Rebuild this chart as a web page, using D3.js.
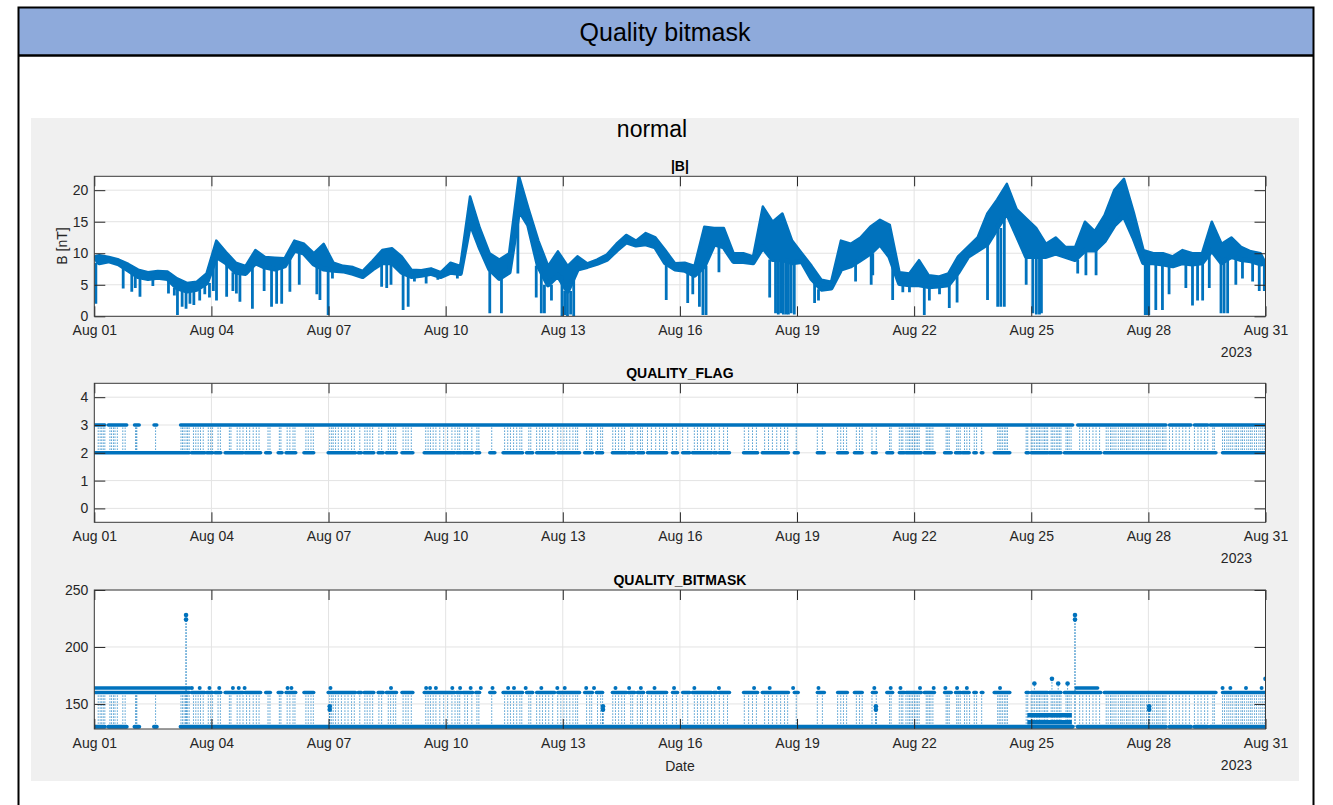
<html>
<head>
<script src="https://cdn.jsdelivr.net/npm/d3@7"></script>
<style>
  body { margin: 0; background: #fff; }
  text { font-family: "Liberation Sans", Arial, sans-serif; }
</style>
</head>
<body>
<script>
var W = 1333, H = 805;

// ---- data (days counted from Aug 01 2023 00:00 UTC) ----
var xTickDays = [0, 3, 6, 9, 12, 15, 18, 21, 24, 27, 30];
var bTicks = [0, 5, 10, 15, 20];
var flagTicks = [0, 1, 2, 3, 4];
var bitmaskTicks = [150, 200, 250];

// |B| per 6 h bin: typical level and highest value in the bin
var binHours = 6;
var bLevel = [8.5, 8.8, 8.3, 7.3, 6.3, 6.0, 6.2, 6.0, 4.5, 4.0, 4.3, 5.3, 9.5, 8.5, 7.0, 6.8, 8.5, 7.8, 7.5, 8.0,
              10.5, 10.0, 8.3, 7.5, 7.3, 7.2, 6.8, 6.3, 7.5, 8.5, 8.5, 7.0, 6.3, 6.5, 6.8, 6.3, 7.0, 6.8, 15.0, 11.0,
              7.5, 6.0, 7.0, 17.0, 14.5, 8.0, 5.0, 6.5, 4.0, 7.5, 7.9, 8.4, 9.0, 10.5, 11.8, 11.3, 11.5, 11.0, 8.5, 7.5,
              7.3, 6.5, 8.0, 11.5, 11.0, 8.7, 8.7, 8.5, 11.0, 9.0, 9.0, 8.5, 8.7, 6.0, 4.3, 4.5, 7.5, 8.0, 9.0, 10.0,
              11.5, 9.5, 5.2, 5.0, 5.0, 4.7, 4.8, 5.0, 7.0, 9.5, 10.5, 11.5, 14.0, 16.5, 13.0, 9.5, 9.5, 9.5, 10.0, 9.5,
              9.0, 10.5, 10.5, 12.0, 14.5, 16.0, 12.5, 8.5, 8.5, 8.3, 8.0, 8.5, 8.3, 8.5, 10.5, 8.5, 9.5, 9.0, 8.8, 8.3];
var bHigh = [9.7, 9.4, 9.0, 8.3, 7.4, 7.0, 7.2, 7.1, 6.0, 5.3, 5.5, 6.8, 12.0, 10.2, 8.5, 8.0, 10.5, 9.4, 9.3, 9.2,
             12.0, 11.5, 10.0, 11.5, 8.5, 8.0, 7.8, 7.2, 8.8, 10.5, 10.8, 9.5, 7.4, 7.3, 7.6, 7.0, 8.5, 8.0, 19.0, 14.0,
             10.0, 9.0, 10.0, 22.3, 17.0, 12.0, 8.0, 10.3, 8.0, 9.5, 8.4, 9.0, 9.8, 11.5, 12.9, 12.0, 13.2, 12.5, 10.5, 8.4,
             8.5, 8.0, 14.2, 14.0, 14.0, 10.0, 10.0, 9.5, 17.4, 15.0, 16.3, 12.0, 10.0, 8.0, 5.8, 5.5, 12.0, 11.5, 12.5, 14.2,
             15.3, 14.5, 7.0, 6.8, 8.9, 6.5, 6.3, 6.8, 9.5, 11.0, 12.5, 16.3, 18.5, 21.0, 17.0, 15.5, 14.0, 11.5, 12.5, 11.0,
             11.0, 15.0, 13.5, 16.0, 20.0, 21.8, 16.5, 10.5, 10.0, 10.0, 9.5, 10.5, 10.0, 10.0, 15.0, 11.5, 12.5, 11.0, 10.3, 10.0];
var bFirst = 9.5, bLast = 8.5;
// downward dips of |B|: [day, value]
var bSpikes = [[0.04, 2.0], [0.74, 4.4], [0.96, 3.9], [1.05, 4.5], [1.17, 3.1], [1.5, 4.8], [1.9, 3.6], [2.05, 3.3],
  [2.13, 0.2], [2.25, 1.5], [2.35, 1.2], [2.45, 2.0], [2.55, 1.8], [2.7, 2.5], [2.83, 3.5], [2.95, 3.0], [3.05, 4.0],
  [3.13, 2.5], [3.39, 3.1], [3.55, 4.0], [3.64, 3.6], [3.73, 2.3], [4.05, 1.2], [4.35, 4.0], [4.54, 1.5], [4.67, 2.0],
  [4.8, 2.0], [5.01, 3.9], [5.25, 5.0], [5.7, 3.5], [5.78, 2.6], [5.99, 0.2], [6.1, 6.0], [7.36, 4.7], [7.49, 4.5],
  [7.6, 5.0], [7.91, 1.0], [8.04, 1.5], [8.2, 5.5], [8.5, 5.2], [8.8, 5.8], [9.3, 6.0],
  [10.13, 0.5], [10.43, 0.5], [10.85, 6.8], [11.32, 3.0], [11.45, 0.5], [11.53, 0.5], [11.71, 2.5], [11.98, 0.0],
  [12.05, 0.2], [12.12, 0.0], [12.2, 0.3], [12.28, 0.0], [14.65, 2.6], [15.2, 2.1], [15.33, 3.5], [15.5, 1.5],
  [15.59, 0.2], [15.67, 0.2], [16.0, 7.0], [17.3, 3.0], [17.45, 0.5], [17.52, 0.3], [17.58, 0.5], [17.65, 0.3],
  [17.72, 0.3], [17.78, 0.3], [17.85, 0.5], [17.93, 0.3], [18.45, 2.1], [18.55, 2.5], [19.5, 5.5], [19.9, 5.0],
  [19.94, 6.5], [20.45, 2.6], [20.71, 3.8], [20.88, 3.8], [21.26, 0.2], [21.39, 2.5], [21.65, 3.5], [21.9, 1.3],
  [22.1, 2.2], [22.88, 2.6], [23.14, 1.5], [23.22, 1.5], [23.31, 1.5], [23.87, 5.0], [24.04, 0.5], [24.13, 0.3],
  [24.21, 0.3], [24.26, 0.5], [25.19, 6.8], [25.4, 6.5], [25.66, 6.5], [26.92, 0.2], [26.97, 0.2], [27.01, 0.2],
  [27.19, 1.0], [27.36, 1.0], [27.53, 3.5], [27.96, 4.5], [28.13, 1.7], [28.26, 2.5], [28.39, 2.5], [28.56, 4.5],
  [28.86, 0.5], [28.94, 0.5], [29.03, 0.5], [29.24, 5.0], [29.41, 6.0], [29.67, 5.5], [29.84, 4.0], [29.97, 4.0]];

// quality flag: runs at level 3 and level 2, and times of 2<->3 switches
var level3Runs = [[0.02, 0.27], [0.36, 0.83], [1.03, 1.15], [1.53, 1.6], [2.21, 25.06], [25.19, 27.45],
                  [27.54, 28.09], [28.18, 28.52], [28.58, 30]];
var level2Runs = [[0, 2.43], [2.49, 2.83], [2.88, 3.03], [3.09, 3.24], [3.35, 3.81], [3.86, 4.26], [4.39, 4.51],
                  [4.71, 4.81], [4.91, 5.16], [5.37, 5.62], [5.99, 6.69], [6.76, 6.84], [6.91, 7.16], [7.27, 7.40],
                  [7.48, 7.74], [7.88, 8.16], [8.45, 9.23], [9.28, 9.40], [9.44, 9.69], [9.77, 9.87], [10.13, 10.26],
                  [10.47, 10.97], [11.07, 11.23], [11.33, 11.79], [11.87, 12.43], [12.56, 12.76], [12.86, 13.02],
                  [13.27, 13.63], [13.68, 13.84], [13.91, 14.07], [14.17, 14.66], [14.81, 14.94], [15.07, 15.25],
                  [15.32, 15.81], [15.86, 15.94], [16.0, 16.27], [16.63, 16.99], [17.11, 17.78], [17.93, 18.03],
                  [18.52, 18.70], [19.04, 19.29], [19.47, 19.67], [19.93, 20.03], [20.3, 20.45], [20.62, 20.75],
                  [20.79, 21.18], [21.26, 21.52], [21.78, 21.95], [22.06, 22.2], [22.24, 22.41], [22.53, 22.59],
                  [22.72, 22.76], [23.05, 23.45], [23.87, 23.93], [24.0, 24.42], [24.46, 24.76], [24.85, 25.78],
                  [25.87, 28.73], [28.9, 30]];
var flagSwitchDays = [0.10, 0.15, 0.19, 0.23, 0.27, 0.40, 0.44, 0.49, 0.53, 0.59, 0.73, 0.79, 1.06, 1.07, 1.09, 1.57,
  2.22, 2.26, 2.30, 2.35, 2.39, 2.43, 2.54, 2.60, 2.66, 2.72, 2.79, 2.92, 2.98, 3.03, 3.17, 3.23, 3.46, 3.50,
  3.66, 3.73, 3.81, 3.90, 3.98, 4.07, 4.15, 4.22, 4.45, 4.50, 4.74, 4.78, 4.94, 5.01, 5.09, 5.14, 5.42, 5.48, 5.55, 5.61,
  6.03, 6.08, 6.12, 6.18, 6.25, 6.33, 6.42, 6.50, 6.59, 6.66, 6.80, 6.93, 6.99, 7.06, 7.13, 7.29, 7.36,
  7.53, 7.59, 7.66, 7.72, 7.91, 7.98, 8.04, 8.12, 8.49, 8.55, 8.61, 8.68, 8.75, 8.85, 8.95, 9.05, 9.16, 9.24,
  9.31, 9.36, 9.49, 9.56, 9.67, 9.80, 9.85, 10.18, 10.51, 10.59, 10.66, 10.74, 10.82, 10.90, 10.95, 11.13, 11.18,
  11.33, 11.41, 11.48, 11.56, 11.64, 11.74, 11.87, 11.95, 12.03, 12.10, 12.18, 12.26, 12.33, 12.38, 12.61, 12.69, 12.74,
  12.89, 12.97, 13.02, 13.28, 13.35, 13.43, 13.51, 13.58, 13.74, 13.79, 13.91, 13.99, 14.04, 14.17, 14.27, 14.38, 14.48,
  14.58, 14.66, 14.81, 14.91, 15.07, 15.20, 15.37, 15.45, 15.53, 15.61, 15.71, 15.81, 15.89, 16.01, 16.12, 16.22,
  16.65, 16.76, 16.86, 16.96, 17.17, 17.27, 17.37, 17.48, 17.58, 17.68, 17.76, 17.98, 18.52, 18.65, 19.04, 19.12,
  19.19, 19.27, 19.52, 19.60, 19.67, 19.92, 20.03, 20.37, 20.41, 20.62, 20.67, 20.71, 20.79, 20.84, 20.88, 20.92,
  20.96, 21.01, 21.05, 21.09, 21.13, 21.31, 21.35, 21.39, 21.43, 21.48, 21.82, 21.86, 21.90, 22.09, 22.13, 22.18,
  22.29, 22.35, 22.42, 22.54, 22.60, 22.73, 23.14, 23.18, 23.22, 23.26, 23.31, 23.35, 23.39, 23.87, 23.91,
  24.00, 24.04, 24.08, 24.13, 24.17, 24.21, 24.25, 24.30, 24.34, 24.38, 24.42, 24.51, 24.55, 24.59, 24.64, 24.68,
  24.72, 24.76, 24.89, 24.93, 24.97, 25.02, 25.24, 25.32, 25.41, 25.49, 25.58, 25.66, 25.75,
  25.92, 25.97, 26.03, 26.07, 26.12, 26.17, 26.23, 26.29, 26.33, 26.38, 26.44, 26.48, 26.53, 26.59, 26.63, 26.69,
  26.74, 26.80, 26.84, 26.89, 26.95, 27.00, 27.04, 27.10, 27.15, 27.21, 27.25, 27.30, 27.36, 27.40, 27.45,
  27.54, 27.62, 27.71, 27.79, 27.88, 27.96, 28.05, 28.18, 28.27, 28.35, 28.44, 28.52, 28.65, 28.69,
  28.90, 28.95, 29.01, 29.06, 29.11, 29.16, 29.22, 29.26, 29.31, 29.37, 29.41, 29.46, 29.52, 29.57, 29.62, 29.66,
  29.72, 29.77, 29.83, 29.88, 29.93, 29.98];

// quality bitmask: low level follows flag 3 runs, high level follows flag 2 runs
var bitmaskLow = 130, bitmaskHigh = 160;
var bitmask164Runs = [[0, 2.45], [25.15, 25.7]];
var bitmask164Days = [2.5, 2.7, 2.95, 3.2, 3.55, 3.7, 3.85, 4.95, 5.05, 6.05, 7.6, 8.5, 8.6, 8.75, 9.17, 9.37, 9.64,
  9.9, 10.2, 10.6, 10.75, 11.05, 11.45, 11.86, 12.05, 12.6, 12.8, 13.35, 13.7, 14.0, 14.35, 14.85, 15.37, 16.0,
  16.9, 17.3, 17.9, 18.55, 19.98, 20.4, 20.65, 21.15, 21.5, 21.8, 22.1, 22.35, 23.2, 28.9, 29.1, 29.5, 29.9];
var bitmaskMidRuns = [[23.9, 25.04, 134], [23.9, 25.04, 140]];
var bitmaskExtra = [[2.35, 224], [2.35, 228], [25.12, 224], [25.12, 228], [6.03, 145], [6.03, 148],
  [13.03, 145], [13.03, 148], [20.02, 145], [20.02, 148], [27.02, 145], [27.02, 148],
  [24.08, 168], [24.53, 172], [24.69, 168], [24.93, 168], [30.0, 172]];

// ---- drawing ----
var BLUE = "#0072BD";
var T0 = Date.UTC(2023, 7, 1);
function dayToDate(d) { return new Date(T0 + d * 864e5); }

var svg = d3.select("body").append("svg").attr("width", W).attr("height", H);
svg.append("rect").attr("width", W).attr("height", H).attr("fill", "#fff");

// slide frame + header
svg.append("rect").attr("x", 18).attr("y", 7).attr("width", 1295).attr("height", 48).attr("fill", "#8eaadb");
svg.append("path").attr("d", "M18.5,806V7.5H1313.5V806").attr("fill", "none")
  .attr("stroke", "#000").attr("stroke-width", 2);
svg.append("line").attr("x1", 18).attr("x2", 1314).attr("y1", 55.5).attr("y2", 55.5)
  .attr("stroke", "#000").attr("stroke-width", 2.5);
svg.append("text").attr("x", 665).attr("y", 41).attr("text-anchor", "middle")
  .attr("font-size", 25).attr("fill", "#000").text("Quality bitmask");

// figure background
svg.append("rect").attr("x", 31).attr("y", 118).attr("width", 1268).attr("height", 663).attr("fill", "#f0f0f0");
svg.append("text").attr("x", 652).attr("y", 137).attr("text-anchor", "middle")
  .attr("font-size", 23).attr("fill", "#000").text("normal");

var x = d3.scaleUtc().domain([dayToDate(0), dayToDate(30)]).range([94.3, 1265.5]);
var xTickDates = xTickDays.map(dayToDate);
var fmt = d3.utcFormat("%b %d");

var panels = [
  {id: "b", top: 176.3, bottom: 316.3, domain: [0, 22.2], ticks: bTicks, title: "|B|"},
  {id: "flag", top: 383.3, bottom: 522.3, domain: [-0.5, 4.5], ticks: flagTicks, title: "QUALITY_FLAG"},
  {id: "mask", top: 590, bottom: 729, domain: [128, 250], ticks: bitmaskTicks, title: "QUALITY_BITMASK"}
];

panels.forEach(function(p) {
  p.y = d3.scaleLinear().domain(p.domain).range([p.bottom, p.top]);
  var g = svg.append("g");
  g.append("rect").attr("x", x.range()[0]).attr("y", p.top)
    .attr("width", x.range()[1] - x.range()[0]).attr("height", p.bottom - p.top).attr("fill", "#fff");
  // grid
  g.selectAll(".gx").data(xTickDates).enter().append("line")
    .attr("x1", function(d) { return x(d); }).attr("x2", function(d) { return x(d); })
    .attr("y1", p.top).attr("y2", p.bottom).attr("stroke", "#e3e3e3").attr("stroke-width", 1);
  g.selectAll(".gy").data(p.ticks).enter().append("line")
    .attr("x1", x.range()[0]).attr("x2", x.range()[1])
    .attr("y1", function(d) { return p.y(d); }).attr("y2", function(d) { return p.y(d); })
    .attr("stroke", "#e3e3e3").attr("stroke-width", 1);
  svg.append("clipPath").attr("id", "clip-" + p.id).append("rect")
    .attr("x", x.range()[0]).attr("y", p.top)
    .attr("width", x.range()[1] - x.range()[0]).attr("height", p.bottom - p.top);
  p.plot = svg.append("g").attr("clip-path", "url(#clip-" + p.id + ")");
});

// |B|: band between level and bin maximum, plus the dips
var pb = panels[0];
var band = [{d: 0, lo: bFirst, hi: bFirst}];
bLevel.forEach(function(v, i) { band.push({d: (i + 0.5) * binHours / 24, lo: v, hi: bHigh[i]}); });
band.push({d: 30, lo: bLast, hi: bLast});
var bxd = function(d) { return x(dayToDate(d.d)); };
pb.plot.append("path").datum(band)
  .attr("d", d3.area().x(bxd).y0(function(d) { return pb.y(d.lo); }).y1(function(d) { return pb.y(d.hi); }))
  .attr("fill", BLUE);
pb.plot.append("path").datum(band)
  .attr("d", d3.line().x(bxd).y(function(d) { return pb.y(d.lo); }))
  .attr("fill", "none").attr("stroke", BLUE).attr("stroke-width", 5).attr("stroke-linejoin", "round");
pb.plot.append("path").datum(band)
  .attr("d", d3.line().x(bxd).y(function(d) { return pb.y(d.hi); }))
  .attr("fill", "none").attr("stroke", BLUE).attr("stroke-width", 2.5).attr("stroke-linejoin", "round");
pb.plot.selectAll(null).data(bSpikes).enter().append("line")
  .attr("x1", function(d) { return x(dayToDate(d[0])); })
  .attr("x2", function(d) { return x(dayToDate(d[0])); })
  .attr("y1", function(d) { return pb.y(bLevel[Math.min(119, Math.floor(d[0] * 24 / binHours))]); })
  .attr("y2", function(d) { return pb.y(d[1]); })
  .attr("stroke", BLUE).attr("stroke-width", 2.8);

function runs(plot, y, data, level, width) {
  plot.selectAll(null).data(data).enter().append("line")
    .attr("x1", function(d) { return x(dayToDate(d[0])); })
    .attr("x2", function(d) { return x(dayToDate(d[1])) + 0.01; })
    .attr("y1", y(level)).attr("y2", y(level))
    .attr("stroke", BLUE).attr("stroke-width", width).attr("stroke-linecap", "round");
}
function dotted(plot, y, days, lo, hi) {
  plot.selectAll(null).data(days).enter().append("line")
    .attr("x1", function(d) { return x(dayToDate(d)); }).attr("x2", function(d) { return x(dayToDate(d)); })
    .attr("y1", y(lo)).attr("y2", y(hi))
    .attr("stroke", BLUE).attr("stroke-width", 1).attr("stroke-dasharray", "1.3,1.7").attr("opacity", 0.8);
}

// QUALITY_FLAG
var pf = panels[1];
dotted(pf.plot, pf.y, flagSwitchDays, 2, 3);
runs(pf.plot, pf.y, level3Runs, 3, 3.5);
runs(pf.plot, pf.y, level2Runs, 2, 3.5);

// QUALITY_BITMASK
var pm = panels[2];
dotted(pm.plot, pm.y, flagSwitchDays, bitmaskLow, bitmaskHigh);
bitmaskExtra.forEach(function(e) {
  var base = e[1] > 165 && e[1] < 200 ? bitmaskHigh : bitmaskLow;
  dotted(pm.plot, pm.y, [e[0]], base, e[1]);
});
runs(pm.plot, pm.y, level3Runs, bitmaskLow, 4);
runs(pm.plot, pm.y, level2Runs, bitmaskHigh, 3.5);
runs(pm.plot, pm.y, bitmask164Runs, 164, 3.5);
pm.plot.selectAll(null).data(bitmaskMidRuns).enter().append("line")
  .attr("x1", function(d) { return x(dayToDate(d[0])); }).attr("x2", function(d) { return x(dayToDate(d[1])); })
  .attr("y1", function(d) { return pm.y(d[2]); }).attr("y2", function(d) { return pm.y(d[2]); })
  .attr("stroke", BLUE).attr("stroke-width", 4.5);
pm.plot.selectAll(null).data(bitmask164Days).enter().append("circle")
  .attr("cx", function(d) { return x(dayToDate(d)); }).attr("cy", pm.y(164)).attr("r", 2).attr("fill", BLUE);
pm.plot.selectAll(null).data(bitmaskExtra).enter().append("circle")
  .attr("cx", function(d) { return x(dayToDate(d[0])); }).attr("cy", function(d) { return pm.y(d[1]); })
  .attr("r", 2.3).attr("fill", BLUE);

// axes, ticks, box, labels
panels.forEach(function(p) {
  var x0 = x.range()[0], x1 = x.range()[1];
  var g = svg.append("g");
  g.append("g").attr("transform", "translate(0," + p.bottom + ")")
    .call(d3.axisBottom(x).tickValues(xTickDates).tickFormat(fmt).tickSizeInner(-10).tickSizeOuter(0).tickPadding(9));
  g.append("g").attr("transform", "translate(0," + p.top + ")")
    .call(d3.axisTop(x).tickValues(xTickDates).tickFormat("").tickSizeInner(-10).tickSizeOuter(0));
  g.append("g").attr("transform", "translate(" + x0 + ",0)")
    .call(d3.axisLeft(p.y).tickValues(p.ticks).tickFormat(d3.format("d")).tickSizeInner(-11).tickSizeOuter(0).tickPadding(6));
  g.append("g").attr("transform", "translate(" + x1 + ",0)")
    .call(d3.axisRight(p.y).tickValues(p.ticks).tickFormat("").tickSizeInner(-11).tickSizeOuter(0));
  g.selectAll(".domain").remove();
  g.selectAll(".tick line").attr("stroke", "#262626").attr("stroke-width", 1);
  g.selectAll(".tick text").attr("fill", "#262626").attr("font-size", 14)
    .attr("font-family", "'Liberation Sans', Arial, sans-serif");
  g.append("rect").attr("x", x0).attr("y", p.top).attr("width", x1 - x0).attr("height", p.bottom - p.top)
    .attr("fill", "none").attr("stroke", "#3a3a3a").attr("stroke-width", 1);
  g.append("text").attr("x", (x0 + x1) / 2).attr("y", p.top - 5).attr("text-anchor", "middle")
    .attr("font-size", 14).attr("font-weight", "bold").attr("fill", "#000").text(p.title);
  g.append("text").attr("x", 1252).attr("y", p.bottom + 41).attr("text-anchor", "end")
    .attr("font-size", 14).attr("fill", "#262626").text("2023");
});

svg.append("text").attr("transform", "translate(67,246) rotate(-90)").attr("text-anchor", "middle")
  .attr("font-size", 14).attr("fill", "#262626").text("B [nT]");
svg.append("text").attr("x", 680).attr("y", 771).attr("text-anchor", "middle")
  .attr("font-size", 14).attr("fill", "#262626").text("Date");
</script>
</body>
</html>
